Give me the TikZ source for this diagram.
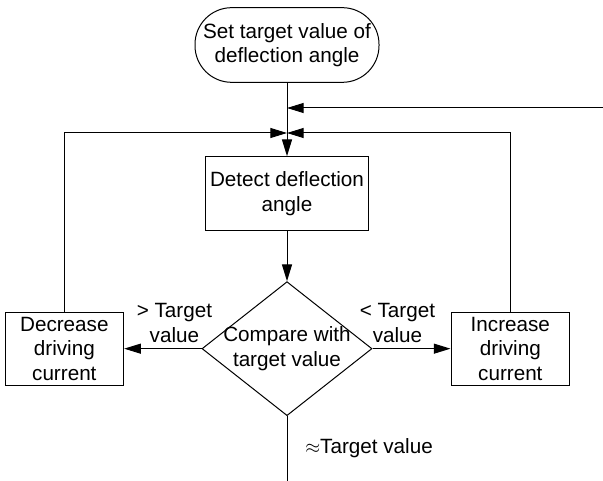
\documentclass[tikz,border=0pt]{standalone}
\usepackage{fontspec}
\setmainfont{Liberation Sans}
\usetikzlibrary{arrows.meta,positioning,shapes.geometric,calc}

\begin{document}
\begin{tikzpicture}[x=0.75pt, y=-0.75pt, node distance=2cm, line width=0.75pt,
    font=\fontsize{15.5pt}{18.5pt}\selectfont]
\tikzset{
    %grot strzalki
    >={Triangle[length=12.5pt,width=7.5pt]},
    %styl wezlow
    owal/.style={
           rectangle, rounded corners=27.5pt,
           inner sep=0pt,
           draw=black,
           minimum width=138pt,
           minimum height=56pt,
           align=center},
    blok/.style={
           rectangle,
           inner sep=0pt,
           draw=black,
           minimum width=122pt,
           minimum height=55pt,
           align=center},
    romb/.style={
           diamond,
           inner sep=-8pt,
           draw=black,
           minimum width=127.5pt,
           minimum height=100.5pt,
           align=center}
}
\useasboundingbox (0,0) rectangle (603,481);

%wezly
\node(start)     [owal] at (287,45)                      {Set target value of\\deflection angle};
\node(det)       [blok,below=55pt of start]              {Detect deflection\\angle};
\node(cmp)       [romb,below=38pt of det]                {Compare with\\target value};
\node(dec)       [blok,left=58pt of cmp,minimum width=89pt]    {Decrease\\driving\\current};
\node(inc)       [blok,right=58.5pt of cmp,minimum width=89pt] {Increase\\driving\\current};

%punkty pomocnicze
\coordinate (m1)  at (start.south |- 0,108);
\coordinate (m2)  at (start.south |- 0,133);
\coordinate (wej) at (603,108);
\coordinate (wyj) at (cmp.south |- 0,481);

%strzalki
\draw[->] (start) -- (det);
\draw[->] (wej) -- (m1);
\draw[->] (dec.north) |- (m2);
\draw[->] (inc.north) |- (m2);
\draw[->] (det) -- (cmp);
\draw[->] (cmp.west) -- node(lgt)[pos=0.35,above=1pt,align=center] {> Target\\value} (dec);
\draw[->] (cmp.east) -- node(lst)[pos=0.32,above=1pt,align=center] {< Target\\value} (inc);
\draw (cmp.south) -- node(leq)[right=10pt] {$\approx$Target value} (wyj);
\end{tikzpicture}
\end{document}
